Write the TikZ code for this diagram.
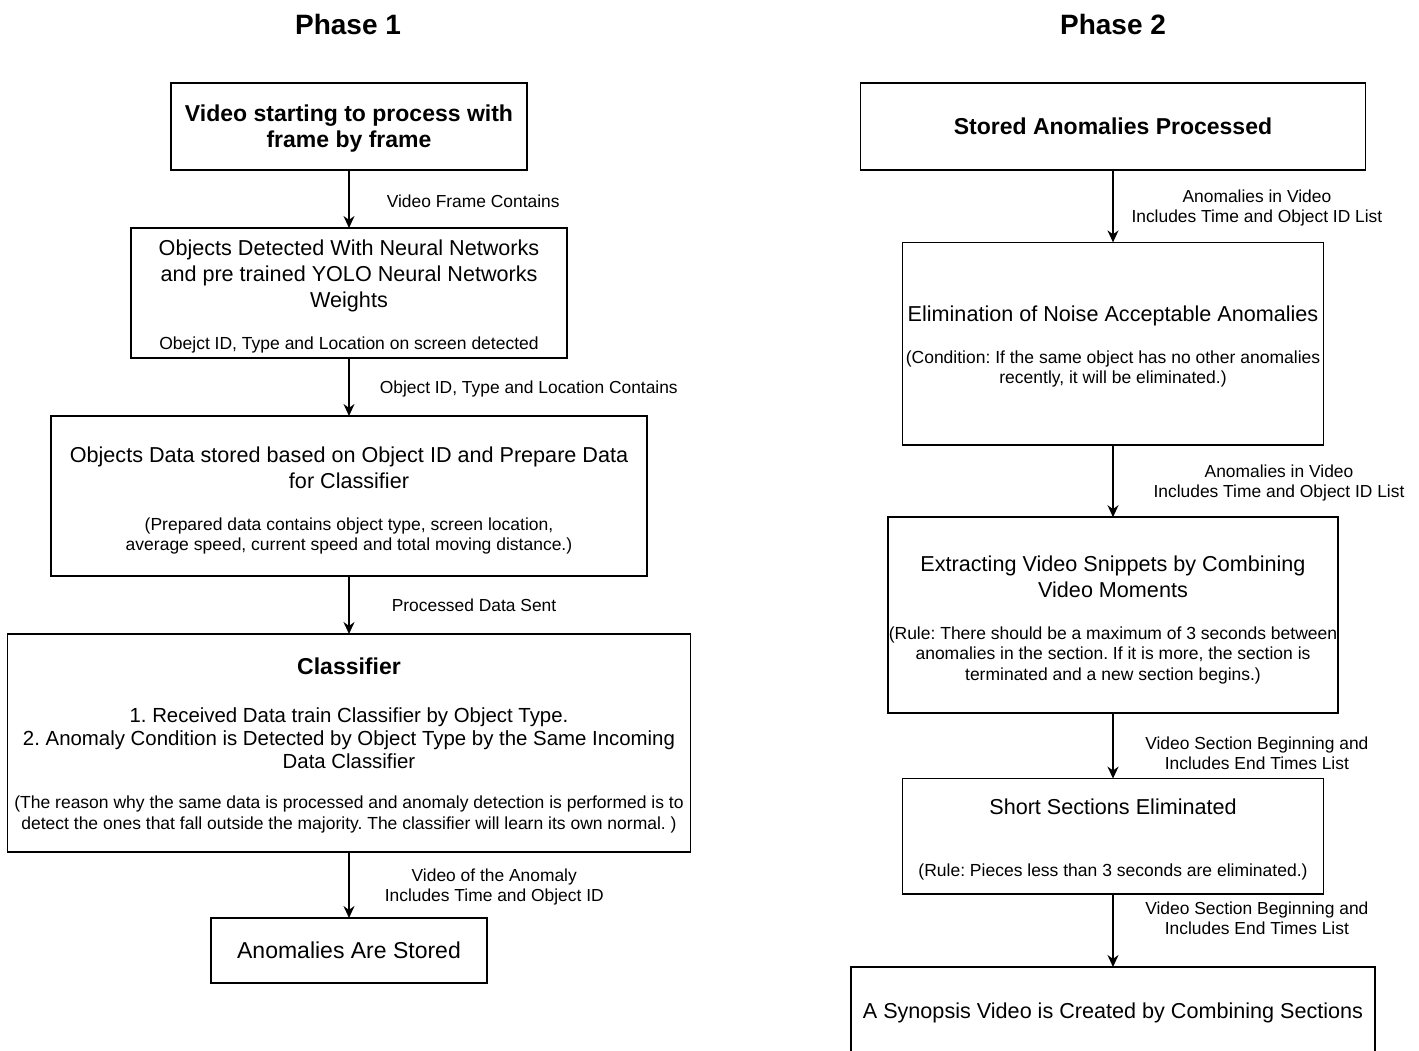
\documentclass[tikz,border=0pt]{standalone}
\usepackage{fontspec}
\setmainfont{Liberation Sans}
\usetikzlibrary{arrows.meta,positioning}
\setlength{\parindent}{0pt}
\frenchspacing

\newcommand{\mainfnt}{\fontsize{10.8}{13}\selectfont}
\newcommand{\notefnt}{\fontsize{8.75}{10.25}\selectfont}
\newcommand{\headfnt}{\fontsize{11.5}{13.25}\selectfont\bfseries}
\newcommand{\lift}[1]{\rule{0pt}{#1}}

\begin{document}
\begin{tikzpicture}[x=0.5pt,y=-0.5pt,>={Stealth[length=6pt,width=5.5pt]},thick,
    phase/.style={font=\fontsize{14}{16}\selectfont\bfseries,inner sep=0pt},
    stagebox/.style 2 args={draw,align=flush center,outer sep=0pt,inner xsep=-15pt,inner ysep=2pt,
      minimum width=#1,text width=#1+30pt,minimum height=#2},
    lbl/.style={font=\fontsize{8.7}{10}\selectfont,align=center,inner sep=0pt,anchor=west,yshift=-1pt}]

  \useasboundingbox (0,0) rectangle (1419,1050);
  \clip (0,0) rectangle (1419,1050);

  % Phase 1
  \node[phase] (p1) at (348,24.5) {Phase 1};
  \node[stagebox={178pt}{43.5pt}] (video) at (349,126.5)
    {{\headfnt\lift{10.4pt}Video starting to process with\\ frame by frame\par}};
  \node[stagebox={218pt}{65pt}] (detect) [below=29pt of video]
    {{\mainfnt\lift{10.9pt}Objects Detected With Neural Networks\\ and pre trained YOLO Neural Networks\\ Weights\par}
     \vspace{10.75pt}{\notefnt Obejct ID, Type and Location on screen detected\par}};
  \node[stagebox={298pt}{80pt}] (prep) [below=29pt of detect]
    {{\mainfnt\lift{12.4pt}Objects Data stored based on Object ID and Prepare Data\\ for Classifier\par}
     \vspace{10.9pt}{\notefnt (Prepared data contains object type, screen location,\\ average speed, current speed and total moving distance.)\par}};
  \node[stagebox={341.5pt}{109pt}] (clf) [below=29pt of prep]
    {{\headfnt\lift{10.9pt}Classifier\par}
     \vspace{12.3pt}{\fontsize{10.2}{11.5}\selectfont 1. Received Data train Classifier by Object Type.\\ 2. Anomaly Condition is Detected by Object Type by the Same Incoming\\ Data Classifier\par}
     \vspace{10pt}{\notefnt (The reason why the same data is processed and anomaly detection is performed is to\\ detect the ones that fall outside the majority. The classifier will learn its own normal. )\par}};
  \node[stagebox={138pt}{32.5pt}] (stored) [below=33pt of clf]
    {{\fontsize{11.5}{13}\selectfont Anomalies Are Stored\par}};

  \path[->]
    (video)  edge node[lbl,xshift=18.5pt] {Video Frame Contains} (detect)
    (detect) edge node[lbl,xshift=15pt] {Object ID, Type and Location Contains} (prep)
    (prep)   edge node[lbl,xshift=21pt,yshift=1pt] {Processed Data Sent} (clf)
    (clf)    edge node[lbl,xshift=17.5pt] {Video of the Anomaly\\ Includes Time and Object ID} (stored);

  % Phase 2
  \node[phase] (p2) at (1113,24.5) {Phase 2};
  \node[stagebox={252.5pt}{43.5pt}] (proc) at (1113,126.5)
    {{\headfnt Stored Anomalies Processed\par}};
  \node[stagebox={210.5pt}{101.2pt}] (noise) [below=36.2pt of proc]
    {{\mainfnt\lift{10.9pt}Elimination of Noise Acceptable Anomalies\par}
     \vspace{10.8pt}{\notefnt (Condition: If the same object has no other anomalies\\ recently, it will be eliminated.)\par}};
  \node[stagebox={225pt}{98pt}] (snip) [below=36.2pt of noise]
    {{\mainfnt\lift{12.4pt}Extracting Video Snippets by Combining\\ Video Moments\par}
     \vspace{10.9pt}{\notefnt (Rule: There should be a maximum of 3 seconds between\\ anomalies in the section. If it is more, the section is\\ terminated and a new section begins.)\par}};
  \node[stagebox={210.5pt}{57.7pt}] (short) [below=32.7pt of snip]
    {{\mainfnt\lift{10.9pt}Short Sections Eliminated\par}
     \vspace{20.8pt}{\notefnt (Rule: Pieces less than 3 seconds are eliminated.)\par}};
  \node[stagebox={262pt}{44pt}] (synop) [below=36.5pt of short]
    {{\mainfnt\lift{9.9pt}A Synopsis Video is Created by Combining Sections\par}};

  \path[->]
    (proc)  edge node[lbl,xshift=8.85pt] {Anomalies in Video\\ Includes Time and Object ID List} (noise)
    (noise) edge node[lbl,xshift=19.9pt] {Anomalies in Video\\ Includes Time and Object ID List} (snip)
    (snip)  edge node[lbl,xshift=15.75pt,yshift=-2.5pt] {Video Section Beginning and\\ Includes End Times List} (short)
    (short) edge node[lbl,xshift=15.75pt,yshift=7pt] {Video Section Beginning and\\ Includes End Times List} (synop);
\end{tikzpicture}
\end{document}
